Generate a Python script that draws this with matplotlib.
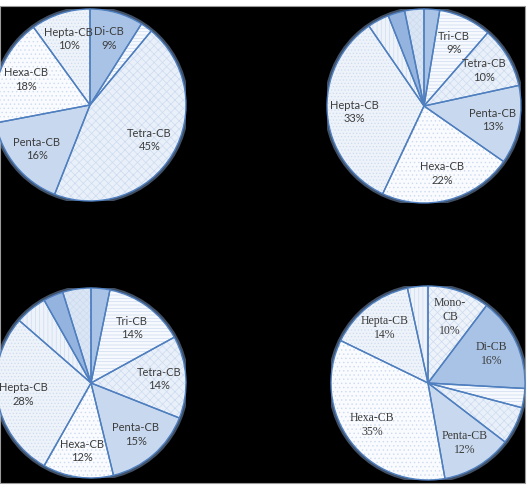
import matplotlib
matplotlib.use("Agg")
import matplotlib.pyplot as plt
from matplotlib.patches import Rectangle, Circle

W, H = 532, 486

# congener groups, same order in every pie (clockwise from 12 o'clock)
groups = ["Mono-CB", "Di-CB", "Tri-CB", "Tetra-CB", "Penta-CB",
          "Hexa-CB", "Hepta-CB", "Octa-CB", "Nona-CB", "Deca-CB"]

# percent of total (0 = group not present)
pie1 = [0, 9.0, 2.0, 45.0, 16.0, 18.0, 10.0, 0, 0, 0]
pie2 = [0, 2.6, 8.8, 10.2, 13.1, 22.3, 33.4, 3.6, 2.8, 3.2]
pie3 = [0, 3.2, 13.8, 14.0, 15.2, 12.0, 28.2, 5.4, 3.4, 4.8]
pie4 = [10.3, 15.6, 3.2, 6.3, 11.8, 35.0, 14.4, 3.4, 0, 0]

# fill colour and hatch per group
fills = {
    "Mono-CB": ("#eef3fa", "xxxx"),
    "Di-CB": ("#a9c3e6", None),
    "Tri-CB": ("#f6f9fd", "-----"),
    "Tetra-CB": ("#e9f0f9", "xxxx"),
    "Penta-CB": ("#c8d9ef", None),
    "Hexa-CB": ("#f9fbfe", "...."),
    "Hepta-CB": ("#eef3fa", "....."),
    "Octa-CB": ("#eef3fa", "||||"),
    "Nona-CB": ("#94b4df", None),
    "Deca-CB": ("#dbe6f5", "xxxxx"),
}

plt.rcParams["hatch.linewidth"] = 0.5

fig = plt.figure(figsize=(W / 100, H / 100), dpi=100)
fig.patch.set_facecolor("white")
fig.patches.append(Rectangle((0, 3 / H), 525 / W, 477 / H, transform=fig.transFigure,
                             facecolor="black", edgecolor="#9a9a9a", lw=0.8, zorder=-10))


def draw_pie(vals, cx, cy, r, font):
    ax = fig.add_axes([(cx - r) / W, 1 - (cy + r) / H, 2 * r / W, 2 * r / H])
    keep = [(g, v) for g, v in zip(groups, vals) if v > 0]
    names = [g for g, v in keep]
    sizes = [v for g, v in keep]
    labels = []
    for g, v in keep:
        if v >= 8:
            labels.append(g.replace("Mono-", "Mono-\n") + "\n" + f"{round(v)}%")
        else:
            labels.append("")
    ax.add_patch(Circle((0, 0), 1.0, fill=False, edgecolor="#8fb3e6", lw=4, alpha=0.45, zorder=0))
    wedges, _ = ax.pie(sizes, startangle=90, counterclock=False,
                       colors=[fills[n][0] for n in names],
                       wedgeprops=dict(edgecolor="#cddbf0", linewidth=0))
    for w, n in zip(wedges, names):
        if fills[n][1]:
            w.set_hatch(fills[n][1])
    ax.pie(sizes, startangle=90, counterclock=False, labels=labels, labeldistance=0.72,
           wedgeprops=dict(facecolor="none", edgecolor="#4f7fbf", linewidth=1.0),
           textprops=dict(ha="center", va="center", fontsize=font[1], family=font[0],
                          color="#3c3c3c", linespacing=1.25))
    ax.set_xlim(-1, 1)
    ax.set_ylim(-1, 1)
    ax.axis("off")
    return ax


draw_pie(pie1, 90, 105, 96, ("Lato", 8))
draw_pie(pie2, 424, 106, 97, ("Lato", 8))
draw_pie(pie3, 91, 383, 95, ("Lato", 8))
draw_pie(pie4, 428, 383, 97, ("Liberation Serif", 8.5))

fig.savefig("out.png", dpi=100, facecolor="white")
